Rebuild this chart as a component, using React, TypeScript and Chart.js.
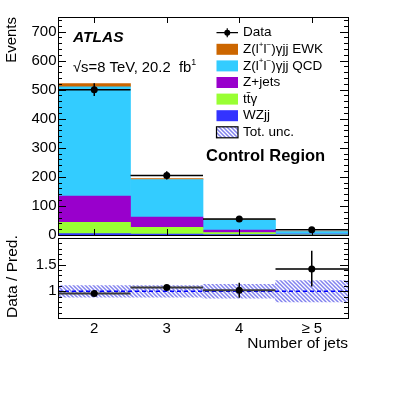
import React, { useEffect, useRef } from 'react';
import { Chart, registerables } from 'chart.js';

Chart.register(...registerables);

const FONT = '"Liberation Sans", Arial, Helvetica, sans-serif';

// ---- data ----
const categories = ['2', '3', '4', '\u2265 5'];
const wzjj = [5, 3, 1.5, 0.5];
const ttgamma = [39, 23, 7, 1.5];
const zjets = [90, 36, 8, 1.5];
const qcd = [376, 129, 35.5, 8.5];
const ewk = [11, 3, 2, 1];
const dataValues = [500, 205, 55, 18];
const dataErrors = [22, 14, 7, 4];
const ratioValues = [0.96, 1.07, 1.02, 1.42];
const ratioErrUp = [0.03, 0.05, 0.14, 0.34];
const ratioErrDown = [0.03, 0.05, 0.14, 0.33];
const uncValues = [0.11, 0.11, 0.13, 0.2];
const mainYTicks = [0, 100, 200, 300, 400, 500, 600, 700];
const ratioYTicks = [0.5, 1, 1.5, 2];
const ratioTickLabels = ['1', '1.5'];

const COLORS = {
  ewk: '#CC6600',
  qcd: '#33CCFF',
  zjets: '#9900CC',
  tt: '#99FF33',
  wz: '#3333FF',
};

type Seg = { t: string; sup?: boolean };

const legendEntries: { kind: string; color?: string; segs: Seg[] }[] = [
  { kind: 'data', segs: [{ t: 'Data' }] },
  { kind: 'box', color: COLORS.ewk, segs: [{ t: 'Z(l' }, { t: '+', sup: true }, { t: 'l' }, { t: '\u2212', sup: true }, { t: ')\u03b3jj EWK' }] },
  { kind: 'box', color: COLORS.qcd, segs: [{ t: 'Z(l' }, { t: '+', sup: true }, { t: 'l' }, { t: '\u2212', sup: true }, { t: ')\u03b3jj QCD' }] },
  { kind: 'box', color: COLORS.zjets, segs: [{ t: 'Z+jets' }] },
  { kind: 'box', color: COLORS.tt, segs: [{ t: 't\u0074\u0304\u03b3' }] },
  { kind: 'box', color: COLORS.wz, segs: [{ t: 'WZjj' }] },
  { kind: 'hatch', segs: [{ t: 'Tot. unc.' }] },
];

function drawRich(ctx: CanvasRenderingContext2D, segs: Seg[], x: number, y: number, size: number) {
  let cx = x;
  ctx.textAlign = 'left';
  ctx.textBaseline = 'middle';
  for (const s of segs) {
    ctx.font = `${s.sup ? size * 0.6 : size}px ${FONT}`;
    ctx.fillText(s.t, cx, s.sup ? y - size * 0.36 : y);
    cx += ctx.measureText(s.t).width;
  }
}

function makeHatch(): CanvasPattern | string {
  const c = document.createElement('canvas');
  c.width = 4;
  c.height = 4;
  const g = c.getContext('2d');
  if (!g) return '#aaaaff';
  g.strokeStyle = '#8282ee';
  g.lineWidth = 1.5;
  g.beginPath();
  g.moveTo(-1, -1); g.lineTo(5, 5);
  g.moveTo(-1, 3); g.lineTo(1, 5);
  g.moveTo(3, -1); g.lineTo(5, 1);
  g.stroke();
  const p = g.createPattern(c, 'repeat');
  return p || '#aaaaff';
}

const FS = 15;
const LEG_FS = 13.5;

export default function App() {
  const mainRef = useRef<HTMLCanvasElement>(null);
  const ratioRef = useRef<HTMLCanvasElement>(null);

  useEffect(() => {
    if (!mainRef.current || !ratioRef.current) return;
    const hatch = makeHatch();

    const mainPlugin = {
      id: 'mainDecor',
      afterDatasetsDraw(chart: any) {
        const ctx: CanvasRenderingContext2D = chart.ctx;
        const xs = chart.scales.x;
        const ys = chart.scales.y;
        const { left, right, top, bottom } = chart.chartArea;
        const half = (xs.getPixelForValue(1) - xs.getPixelForValue(0)) / 2;
        ctx.save();
        for (let i = 0; i < dataValues.length; i++) {
          const cx = xs.getPixelForValue(i);
          const y = ys.getPixelForValue(dataValues[i]);
          ctx.strokeStyle = '#000';
          ctx.lineWidth = 1.5;
          ctx.beginPath();
          ctx.moveTo(cx - half, y);
          ctx.lineTo(cx + half, y);
          ctx.stroke();
          ctx.beginPath();
          ctx.moveTo(cx, ys.getPixelForValue(dataValues[i] + dataErrors[i]));
          ctx.lineTo(cx, ys.getPixelForValue(dataValues[i] - dataErrors[i]));
          ctx.stroke();
          ctx.fillStyle = '#000';
          ctx.beginPath();
          ctx.arc(cx, y, 3.5, 0, Math.PI * 2);
          ctx.fill();
        }
        ctx.strokeStyle = '#000';
        ctx.lineWidth = 1;
        ctx.strokeRect(Math.round(left) + 0.5, Math.round(top) + 0.5, Math.round(right - left), Math.round(bottom - top));
        ctx.beginPath();
        for (let v = 0; v <= ys.max; v += 20) {
          const y = Math.round(ys.getPixelForValue(v)) + 0.5;
          const len = v % 100 === 0 ? 8 : 4;
          ctx.moveTo(left, y); ctx.lineTo(left + len, y);
          ctx.moveTo(right, y); ctx.lineTo(right - len, y);
        }
        for (let i = 0; i < categories.length; i++) {
          const x = Math.round(xs.getPixelForValue(i)) + 0.5;
          ctx.moveTo(x, bottom); ctx.lineTo(x, bottom - 6);
          ctx.moveTo(x, top); ctx.lineTo(x, top + 6);
        }
        ctx.stroke();
        ctx.restore();
      },
      afterDraw(chart: any) {
        const ctx: CanvasRenderingContext2D = chart.ctx;
        ctx.save();
        ctx.fillStyle = '#000';
        ctx.textBaseline = 'middle';
        ctx.textAlign = 'left';
        ctx.font = `italic bold 15.5px ${FONT}`;
        ctx.fillText('ATLAS', 73, 37.5);
        drawRich(ctx, [{ t: '\u221as=8 TeV, 20.2  fb' }, { t: '1', sup: true }], 73, 68, 14.8);
        const x0 = 216.5, x1 = 238, tx = 243;
        legendEntries.forEach((e, i) => {
          const y = 32.7 + i * 16.6;
          if (e.kind === 'data') {
            ctx.strokeStyle = '#000';
            ctx.lineWidth = 1.2;
            ctx.beginPath();
            ctx.moveTo(x0, y); ctx.lineTo(x1, y);
            ctx.moveTo((x0 + x1) / 2, y - 4.5); ctx.lineTo((x0 + x1) / 2, y + 4.5);
            ctx.stroke();
            ctx.beginPath();
            ctx.arc((x0 + x1) / 2, y, 3, 0, Math.PI * 2);
            ctx.fill();
          } else if (e.kind === 'box') {
            ctx.fillStyle = e.color as string;
            ctx.fillRect(x0, y - 5.5, x1 - x0, 11);
          } else {
            ctx.fillStyle = hatch as any;
            ctx.fillRect(x0, y - 5.5, x1 - x0, 11);
            ctx.strokeStyle = '#000';
            ctx.lineWidth = 1.2;
            ctx.strokeRect(x0, y - 5.5, x1 - x0, 11);
          }
          ctx.fillStyle = '#000';
          drawRich(ctx, e.segs, tx, y, LEG_FS);
        });
        ctx.font = `bold 16.5px ${FONT}`;
        ctx.textAlign = 'left';
        ctx.fillText('Control Region', 206, 156);
        ctx.restore();
      },
    };

    const ratioPlugin = {
      id: 'ratioDecor',
      afterDatasetsDraw(chart: any) {
        const ctx: CanvasRenderingContext2D = chart.ctx;
        const xs = chart.scales.x;
        const ys = chart.scales.y;
        const { left, right, top, bottom } = chart.chartArea;
        const half = (xs.getPixelForValue(1) - xs.getPixelForValue(0)) / 2;
        ctx.save();
        const y1 = ys.getPixelForValue(1);
        ctx.strokeStyle = '#0000ff';
        ctx.lineWidth = 1.5;
        ctx.setLineDash([4, 3]);
        ctx.beginPath();
        ctx.moveTo(left, y1); ctx.lineTo(right, y1);
        ctx.stroke();
        ctx.setLineDash([]);
        for (let i = 0; i < ratioValues.length; i++) {
          const cx = xs.getPixelForValue(i);
          const y = ys.getPixelForValue(ratioValues[i]);
          ctx.strokeStyle = '#3a3a3a';
          ctx.lineWidth = 2;
          ctx.beginPath();
          ctx.moveTo(cx - half, y); ctx.lineTo(cx + half, y);
          ctx.stroke();
          ctx.strokeStyle = '#000';
          ctx.lineWidth = 1.5;
          ctx.beginPath();
          ctx.moveTo(cx, ys.getPixelForValue(ratioValues[i] + ratioErrUp[i]));
          ctx.lineTo(cx, ys.getPixelForValue(ratioValues[i] - ratioErrDown[i]));
          ctx.stroke();
          ctx.fillStyle = '#000';
          ctx.beginPath();
          ctx.arc(cx, y, 3.5, 0, Math.PI * 2);
          ctx.fill();
        }
        ctx.strokeStyle = '#000';
        ctx.lineWidth = 1;
        ctx.strokeRect(Math.round(left) + 0.5, Math.round(top) + 0.5, Math.round(right - left), Math.round(bottom - top));
        ctx.beginPath();
        for (let k = 5; k <= 20; k++) {
          const v = k / 10;
          const y = Math.round(ys.getPixelForValue(v)) + 0.5;
          const len = k % 5 === 0 ? 8 : 4;
          ctx.moveTo(left, y); ctx.lineTo(left + len, y);
          ctx.moveTo(right, y); ctx.lineTo(right - len, y);
        }
        ctx.stroke();
        ctx.restore();
      },
    };

    const tickFont = { family: FONT, size: FS };
    const titleFont = { family: FONT, size: 15.5 };

    const main = new Chart(mainRef.current, {
      type: 'bar',
      data: {
        labels: categories,
        datasets: [
          { label: 'WZjj', data: wzjj, backgroundColor: COLORS.wz },
          { label: 'ttgamma', data: ttgamma, backgroundColor: COLORS.tt },
          { label: 'Z+jets', data: zjets, backgroundColor: COLORS.zjets },
          { label: 'QCD', data: qcd, backgroundColor: COLORS.qcd },
          { label: 'EWK', data: ewk, backgroundColor: COLORS.ewk },
        ],
      },
      options: {
        responsive: false,
        animation: false,
        events: [],
        layout: { padding: { left: 0, right: 59, top: 17, bottom: 159 } },
        datasets: { bar: { barPercentage: 1, categoryPercentage: 1, borderWidth: 0 } },
        plugins: { legend: { display: false }, tooltip: { enabled: false } },
        scales: {
          x: { display: false, stacked: true },
          y: {
            stacked: true,
            min: 0,
            max: 750,
            afterFit: (s: any) => { s.width = 58; },
            afterBuildTicks: (s: any) => { s.ticks = mainYTicks.map((v) => ({ value: v })); },
            ticks: { padding: 1.5, color: '#000', font: tickFont },
            grid: { display: false, drawTicks: false },
            border: { display: false },
            title: { display: true, text: 'Events', align: 'end', color: '#000', font: tickFont, padding: { top: 3, bottom: 0 } },
          },
        },
      } as any,
      plugins: [mainPlugin],
    });

    const ratio = new Chart(ratioRef.current, {
      type: 'bar',
      data: {
        labels: categories,
        datasets: [
          { label: 'Tot. unc.', data: uncValues.map((u) => [1 - u, 1 + u]), backgroundColor: hatch as any },
        ],
      },
      options: {
        responsive: false,
        animation: false,
        events: [],
        layout: { padding: { left: 0, right: 59, top: 238, bottom: 36 } },
        datasets: { bar: { barPercentage: 1, categoryPercentage: 1, borderWidth: 0 } },
        plugins: { legend: { display: false }, tooltip: { enabled: false } },
        scales: {
          x: {
            afterFit: (s: any) => { s.height = 40; },
            ticks: { padding: 2, color: '#000', font: tickFont, maxRotation: 0 },
            grid: { display: false, drawTicks: false },
            border: { display: false },
            title: { display: true, text: 'Number of jets', align: 'end', color: '#000', font: titleFont, padding: { top: 0, bottom: 5.3 } },
          },
          y: {
            min: 0.5,
            max: 2,
            afterFit: (s: any) => { s.width = 58; },
            afterBuildTicks: (s: any) => { s.ticks = ratioYTicks.map((v) => ({ value: v })); },
            ticks: {
              padding: 1.5,
              color: '#000',
              font: tickFont,
              callback: (v: any) => {
                const lbl = String(v);
                return ratioTickLabels.includes(lbl) ? lbl : '';
              },
            },
            grid: { display: false, drawTicks: false },
            border: { display: false },
            title: { display: true, text: 'Data / Pred.', align: 'start', color: '#000', font: titleFont, padding: { top: 3, bottom: 0 } },
          },
        },
      } as any,
      plugins: [ratioPlugin],
    });

    return () => {
      main.destroy();
      ratio.destroy();
    };
  }, []);

  return (
    <div style={{ position: 'fixed', left: 0, top: 0, width: 407, height: 394, background: '#fff' }}>
      <canvas ref={mainRef} width={407} height={394} style={{ position: 'absolute', left: 0, top: 0 }} />
      <canvas ref={ratioRef} width={407} height={394} style={{ position: 'absolute', left: 0, top: 0 }} />
    </div>
  );
}
